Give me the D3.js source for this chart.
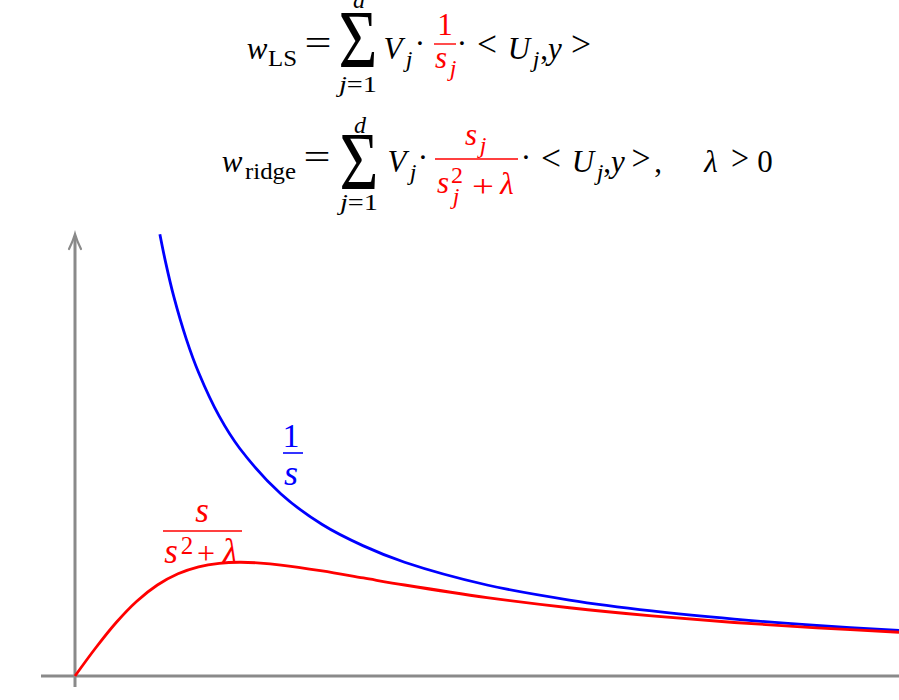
<!DOCTYPE html>
<html><head><meta charset="utf-8">
<script src="https://cdn.jsdelivr.net/npm/d3@7"></script>
<style>html,body{margin:0;padding:0;background:#fff;overflow:hidden}</style>
</head><body>
<svg id="c" width="899" height="700"></svg>
<script>
// ---- data ----
const blueS   = [1.03, 1.1, 1.2, 1.35, 1.5, 1.75, 2, 2.5, 3, 3.5, 4, 5, 6, 7, 8, 9, 10];
const blueVal = [0.971, 0.909, 0.833, 0.741, 0.667, 0.571, 0.5, 0.4, 0.333, 0.286, 0.25, 0.2, 0.167, 0.143, 0.125, 0.111, 0.1];
const redS    = [0, 0.25, 0.5, 0.75, 1, 1.25, 1.5, 1.75, 2, 2.25, 2.5, 3, 3.5, 4, 5, 6, 7, 8, 9, 10];
const redVal  = [0, 0.0615, 0.1176, 0.1644, 0.2, 0.2247, 0.24, 0.2477, 0.25, 0.2483, 0.2439, 0.2308, 0.2154, 0.2, 0.1724, 0.15, 0.1321, 0.1176, 0.1059, 0.0962];
const xDomain = [0, 10];
const yDomain = [0, 1];

const svg = d3.select("#c");
const x = d3.scaleLinear().domain(xDomain).range([75, 899]);
const y = d3.scaleLinear().domain(yDomain).range([676, 221]);

const GRAY = "#8a8a8a", BLUE = "#0000ff", RED = "#ff0000";
const FONT = "'Liberation Serif', 'Times New Roman', serif";
const M = 31, S = 24, R = 35;   // main, script, relation sizes

// axes
svg.append("line").attr("x1", 41).attr("x2", 899).attr("y1", y(0)).attr("y2", y(0))
  .attr("stroke", GRAY).attr("stroke-width", 3);
svg.append("line").attr("x1", x(0)).attr("x2", x(0)).attr("y1", 687).attr("y2", 236)
  .attr("stroke", GRAY).attr("stroke-width", 3);
svg.append("path")
  .attr("d", `M${x(0)-6},${249} Q${x(0)-2},${241} ${x(0)},${234} Q${x(0)+2},${241} ${x(0)+6},${249}`)
  .attr("fill", "none").attr("stroke", GRAY).attr("stroke-width", 2.2).attr("stroke-linecap", "round");

// curves
const line = d3.line().x(d => x(d[0])).y(d => y(d[1])).curve(d3.curveCatmullRom.alpha(0.5));
svg.append("path").datum(blueS.map((s, i) => [s, blueVal[i]])).attr("d", line)
  .attr("fill", "none").attr("stroke", BLUE).attr("stroke-width", 2.8);
svg.append("path").datum(redS.map((s, i) => [s, redVal[i]])).attr("d", line)
  .attr("fill", "none").attr("stroke", RED).attr("stroke-width", 2.8);

// text helper
function t(str, cx, by, size, opts = {}) {
  const el = svg.append("text").attr("x", cx).attr("y", by)
    .attr("text-anchor", opts.anchor || "middle").attr("font-family", FONT)
    .attr("font-size", size).attr("fill", opts.color || "#000")
    .attr("font-style", opts.italic ? "italic" : "normal").text(str);
  if (opts.len) el.attr("textLength", opts.len).attr("lengthAdjust", "spacingAndGlyphs");
  return el;
}
function jeq1(x0, by, len) {
  const el = svg.append("text").attr("x", x0).attr("y", by).attr("font-family", FONT)
    .attr("font-size", S).attr("fill", "#000")
    .attr("textLength", len).attr("lengthAdjust", "spacingAndGlyphs");
  el.append("tspan").attr("font-style", "italic").text("j");
  el.append("tspan").text("=1");
}
function bar(x1, x2, yy, color, w) {
  svg.append("line").attr("x1", x1).attr("x2", x2).attr("y1", yy).attr("y2", yy)
    .attr("stroke", color).attr("stroke-width", w || 1.4);
}
function sigma(cx, top, bottom) {
  const h = bottom - top;
  const fs = h / 0.662;
  svg.append("text").attr("transform", `translate(${cx},${bottom}) scale(0.82,1)`)
    .attr("text-anchor", "middle").attr("font-family", FONT).attr("font-size", fs)
    .attr("fill", "#000").text("Σ");
}

// formula line 1
const B1 = 59, A1 = 45;
t("w", 257, B1, M, {italic: true});
t("LS", 268, B1 + 7, S, {anchor: "start", len: 29});
t("=", 318, A1 + 10, R, {len: 27});
sigma(358, 13, 67);
t("d", 359, 8, S, {italic: true});
jeq1(339, 92, 38);
t("V", 393, B1, M, {italic: true});
t("j", 409, B1 + 8, S, {italic: true});
t("·", 420, A1 + 9, M);
t("1", 445, 35, M, {color: RED});
bar(434, 456, A1 - 1, RED);
t("s", 441, 68, M, {italic: true, color: RED});
t("j", 453, 76, S, {italic: true, color: RED});
t("·", 462, A1 + 9, M);
t("<", 487, A1 + 11, R, {len: 20});
t("U", 519, B1, M, {italic: true});
t("j", 536, B1 + 8, S, {italic: true});
t(",", 544, B1, M);
t("y", 555, B1, M, {italic: true});
t(">", 581, A1 + 11, R, {len: 20});

// formula line 2
const B2 = 172, A2 = 159;
t("w", 232, B2, M, {italic: true});
t("ridge", 245, B2 + 7, S, {anchor: "start", len: 51});
t("=", 317, A2 + 10, R, {len: 27});
sigma(359, 135, 189);
t("d", 360, 133, S, {italic: true});
jeq1(340, 210, 38);
t("V", 397, B2, M, {italic: true});
t("j", 413, B2 + 8, S, {italic: true});
t("·", 423, A2 + 9, M);
t("s", 471, 145, M, {italic: true, color: RED});
t("j", 483, 153, S, {italic: true, color: RED});
bar(435, 518, A2, RED);
t("s", 443, 193, M, {italic: true, color: RED});
t("2", 457, 183, S, {color: RED});
t("j", 456, 204, S, {italic: true, color: RED});
t("+", 483, 197, M, {color: RED, len: 22});
t("λ", 507, 194, M, {italic: true, color: RED});
t("·", 526, A2 + 9, M);
t("<", 551, A2 + 11, R, {len: 20});
t("U", 583, B2, M, {italic: true});
t("j", 600, B2 + 8, S, {italic: true});
t(",", 607, B2, M);
t("y", 618, B2, M, {italic: true});
t(">", 641, A2 + 11, R, {len: 19});
t(",", 658, B2, M);
t("λ", 711, B2, M, {italic: true});
t(">", 740, A2 + 11, R, {len: 18});
t("0", 765, B2, M);

// curve labels
t("1", 291, 447, 34, {color: BLUE});
bar(283, 303, 453, BLUE, 1.6);
t("s", 291, 485, 36, {italic: true, color: BLUE});

t("s", 202, 522, 35, {italic: true, color: RED});
bar(163, 242, 531, RED, 1.6);
t("s", 171, 563, 35, {italic: true, color: RED});
t("2", 187, 554, 25, {color: RED});
t("+", 206, 564, 32, {color: RED});
t("λ", 230, 563, 35, {italic: true, color: RED});
</script>
</body></html>
